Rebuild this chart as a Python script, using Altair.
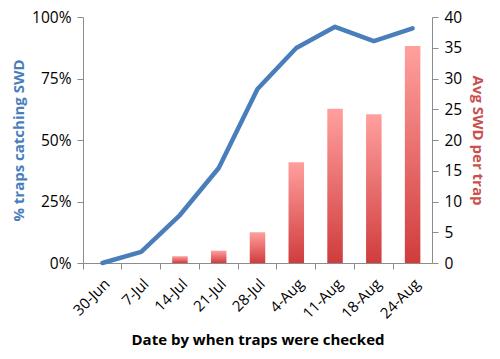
import altair as alt
import pandas as pd

dates = ["30-Jun", "7-Jul", "14-Jul", "21-Jul", "28-Jul", "4-Aug", "11-Aug", "18-Aug", "24-Aug"]
pct_traps = [0.0, 0.045, 0.195, 0.386, 0.707, 0.874, 0.96, 0.902, 0.954]
avg_swd = [0, 0, 1.1, 2.0, 5.0, 16.4, 25.1, 24.2, 35.3]

df = pd.DataFrame({"date": dates, "pct": pct_traps, "avg": avg_swd})

FONT = "Open Sans"
AXIS_GRAY = "#8c8c8c"

x_enc = alt.X(
    "date:N", sort=dates,
    scale=alt.Scale(paddingInner=0, paddingOuter=0),
    axis=alt.Axis(title="Date by when traps were checked", labelAngle=-45,
                  bandPosition=0, tickSize=6, domainColor=AXIS_GRAY, tickColor=AXIS_GRAY,
                  labelFont=FONT, labelFontSize=15, labelColor="black",
                  titleFont=FONT, titleFontSize=15, titleFontWeight="bold",
                  titleColor="black", titlePadding=11, labelPadding=7),
)

grad = alt.LinearGradient(
    gradient="linear",
    stops=[alt.GradientStop(offset=0, color="#ffa09e"),
           alt.GradientStop(offset=1, color="#d03c3c")],
    x1=0, x2=0, y1=0, y2=1,
)

bars = alt.Chart(df).mark_bar(color=grad, width=alt.RelativeBandSize(0.4)).encode(
    x=x_enc,
    y=alt.Y("avg:Q", scale=alt.Scale(domain=[0, 40], nice=False),
            axis=alt.Axis(orient="right", title="Avg SWD per trap", values=list(range(0, 41, 5)),
                          grid=False, tickSize=6, domainColor=AXIS_GRAY, tickColor=AXIS_GRAY,
                          labelFont=FONT, labelFontSize=15.5, labelColor="black", labelPadding=6,
                          titleFont=FONT, titleFontSize=15, titleFontWeight="bold",
                          titleColor="#c9504e", titlePadding=8)),
)

line = alt.Chart(df).mark_line(color="#4a7ebb", strokeWidth=4.5, strokeCap="round",
                               strokeJoin="round").encode(
    x=x_enc,
    y=alt.Y("pct:Q", scale=alt.Scale(domain=[0, 1], nice=False),
            axis=alt.Axis(orient="left", title="% traps catching SWD", format=".0%",
                          values=[0, 0.25, 0.5, 0.75, 1], grid=False, tickSize=6,
                          domainColor=AXIS_GRAY, tickColor=AXIS_GRAY,
                          labelFont=FONT, labelFontSize=15.5, labelColor="black", labelPadding=6,
                          titleFont=FONT, titleFontSize=15, titleFontWeight="bold",
                          titleColor="#4a7ebb", titlePadding=5)),
)

chart = alt.layer(bars, line).resolve_scale(y="independent").properties(
    width=349, height=246,
    autosize=alt.AutoSizeParams(type="none"),
    padding={"left": 75, "top": 9, "right": 60, "bottom": 94},
).configure_view(stroke=None)

chart.save("out.html", embed_options={"renderer": "svg", "actions": False})
